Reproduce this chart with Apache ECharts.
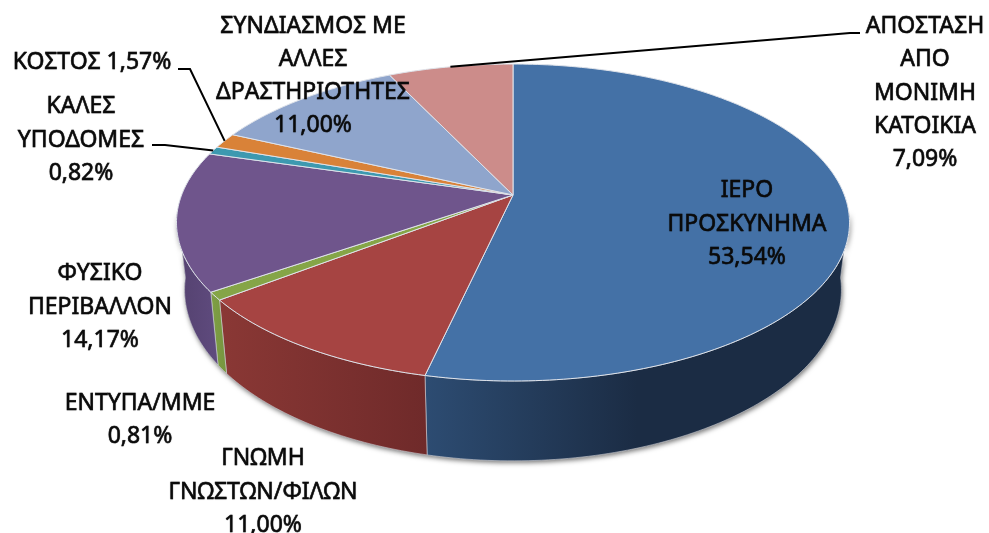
<!DOCTYPE html>
<html lang="el" style="height: 100%">
<head>
  <meta charset="utf-8" />
  <title>Pie</title>
  <style>html, body { margin: 0; background: #fff; }</style>
</head>
<body style="height: 100%">
  <div id="container" style="width: 989px; height: 533px"></div>
  <script src="https://fastly.jsdelivr.net/npm/echarts@6/dist/echarts.min.js"></script>
  <script>
    // values, clockwise from 12 o'clock
    var sliceNames = ['ΙΕΡΟ\nΠΡΟΣΚΥΝΗΜΑ', 'ΓΝΩΜΗ\nΓΝΩΣΤΩΝ/ΦΙΛΩΝ', 'ΕΝΤΥΠΑ/ΜΜΕ', 'ΦΥΣΙΚΟ\nΠΕΡΙΒΑΛΛΟΝ', 'ΚΑΛΕΣ\nΥΠΟΔΟΜΕΣ', 'ΚΟΣΤΟΣ', 'ΣΥΝΔΙΑΣΜΟΣ ΜΕ\nΑΛΛΕΣ\nΔΡΑΣΤΗΡΙΟΤΗΤΕΣ', 'ΑΠΟΣΤΑΣΗ\nΑΠΟ\nΜΟΝΙΜΗ\nΚΑΤΟΙΚΙΑ'];
    var sliceShares = [53.54, 11.00, 0.81, 14.17, 0.82, 1.57, 11.00, 7.09];

    // styles
    var topColors = ['#4471a6', '#a64442', '#85a547', '#6f558c', '#3d99b0', '#d98238', '#8fa5cc', '#cc8c8a'];
    var wallColors = [['#2d4c72', '#1b2c44'], ['#8a3835', '#6f2a2a'], ['#7f9f45', '#76953f'], ['#54416f', '#5f4b7e'], ['#34859a', '#34859a'], ['#c0722f', '#c0722f'], ['#7d90b3', '#7d90b3'], ['#b37b79', '#b37b79']];
    var labelCenters = [[747, 224], [263, 492], [140, 420], [100, 307], [81, 140], [92, 62], [313, 76], [925, 93]];
    // label side of each leader line, then optional elbow
    var leaderPaths = { 4: [[152, 145], [165, 145]], 5: [[178, 69], [190, 69]], 7: [[860, 33], [850, 33]] };

    // perspective of the pie
    var cx = 513, cy = 195, ax = 331.4, ay = 153.7, k = 0.1736;
    var bottomX = 0.976, bottomY = 1.08, bottomCy = 260;
    var wallFrom = 96, wallTo = 264;

    function topPoint(deg) {
      var t = deg * Math.PI / 180, w = 1 + k * Math.cos(t);
      return [cx + ax * Math.sin(t) / w, cy - ay * Math.cos(t) / w];
    }
    function bottomPoint(deg) {
      var p = topPoint(deg);
      return [cx + (p[0] - cx) * bottomX, bottomCy + (p[1] - cy) * bottomY];
    }
    function arc(fn, from, to) {
      var pts = [], n = Math.max(2, Math.ceil(Math.abs(to - from)));
      for (var i = 0; i <= n; i++) pts.push(fn(from + (to - from) * i / n));
      return pts;
    }
    function startAngle(idx) {
      var sum = 0;
      for (var i = 0; i < idx; i++) sum += sliceShares[i];
      return sum * 3.6;
    }

    var seriesData = sliceShares.map(function (v) { return [v]; });

    function renderShadow(params) {
      if (params.dataIndex !== 0) return null;
      var pts = arc(topPoint, wallFrom, wallTo).concat(arc(bottomPoint, wallTo, wallFrom));
      return {
        type: 'polygon',
        shape: { points: pts },
        style: { fill: '#777', shadowBlur: 5, shadowColor: 'rgba(0,0,0,0.55)', shadowOffsetX: 1, shadowOffsetY: 2 },
        silent: true
      };
    }

    function renderWall(params, api) {
      var i = params.dataIndex;
      var from = Math.max(startAngle(i), wallFrom);
      var to = Math.min(startAngle(i) + api.value(0) * 3.6, wallTo);
      if (to <= from) return null;
      return {
        type: 'polygon',
        shape: { points: arc(topPoint, from, to).concat(arc(bottomPoint, to, from)) },
        style: {
          fill: new echarts.graphic.LinearGradient(0, 0, 1, 0, [
            { offset: 0, color: wallColors[i][0] },
            { offset: i === 0 ? 0.5 : 1, color: wallColors[i][1] },
            { offset: 1, color: wallColors[i][1] }
          ]),
          stroke: 'rgba(215,218,225,0.8)',
          lineWidth: 0.7
        }
      };
    }

    function renderTop(params, api) {
      var i = params.dataIndex;
      var from = startAngle(i), to = from + api.value(0) * 3.6;
      return {
        type: 'polygon',
        shape: { points: [[cx, cy]].concat(arc(topPoint, from, to)) },
        style: { fill: topColors[i], stroke: '#dfe3ea', lineWidth: 1 }
      };
    }

    function renderLabel(params, api) {
      var i = params.dataIndex, v = api.value(0);
      var pct = v.toFixed(2).replace('.', ',') + '%';
      var sep = sliceNames[i] === 'ΚΟΣΤΟΣ' ? ' ' : '\n';
      var children = [{
        type: 'text',
        style: {
          text: sliceNames[i] + sep + pct,
          x: labelCenters[i][0],
          y: labelCenters[i][1],
          align: 'center',
          verticalAlign: 'middle',
          fontFamily: '"Noto Sans"',
          fontSize: 23,
          lineHeight: 33.3,
          fill: '#0a0a0a',
          stroke: '#0a0a0a',
          lineWidth: 0.5,
          textShadowColor: 'rgba(0,0,0,0.3)',
          textShadowBlur: 1
        }
      }];
      if (leaderPaths[i]) {
        var mid = startAngle(i) + v * 1.8;
        children.push({
          type: 'polyline',
          shape: { points: leaderPaths[i].concat([topPoint(mid)]) },
          style: { fill: 'none', stroke: '#000', lineWidth: 2 }
        });
      }
      return { type: 'group', children: children };
    }

    var myChart = echarts.init(document.getElementById('container'), null, { renderer: 'canvas' });
    var option = {
      backgroundColor: '#fff',
      animation: false,
      series: [
        { type: 'custom', coordinateSystem: 'none', data: seriesData, renderItem: renderShadow, z: 1, silent: true },
        { type: 'custom', coordinateSystem: 'none', data: seriesData, renderItem: renderWall, z: 2 },
        { type: 'custom', coordinateSystem: 'none', data: seriesData, renderItem: renderTop, z: 3 },
        { type: 'custom', coordinateSystem: 'none', data: seriesData, renderItem: renderLabel, z: 4 }
      ]
    };
    myChart.setOption(option);
    window.addEventListener('resize', myChart.resize);
  </script>
</body>
</html>
